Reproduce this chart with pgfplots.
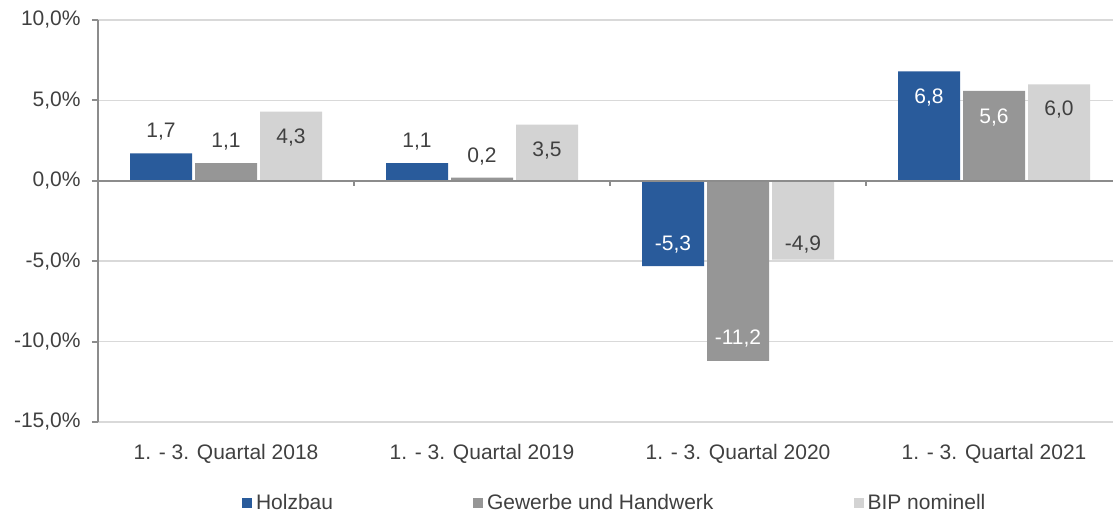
\documentclass[border=0pt]{standalone}
\usepackage{fontspec}
\setmainfont{Liberation Sans}
\usepackage{pgfplots}
\pgfplotsset{compat=1.18}
\definecolor{cblue}{HTML}{295B9B}
\definecolor{cgray}{HTML}{969696}
\definecolor{clight}{HTML}{D3D3D3}
\definecolor{axgray}{HTML}{8C8C8C}
\definecolor{grgray}{HTML}{D9D9D9}
\definecolor{txt}{HTML}{404040}
\newcommand{\fs}{\fontsize{10.5}{12.6}\selectfont}
\pgfplotsset{sqleg/.style={legend image code/.code={\fill[##1] (0pt,-2.5pt) rectangle (5pt,2.5pt);}}}
\tikzset{lbl/.style={font=\fs, text=txt, inner sep=0pt, text depth=0pt, anchor=center},
         wlbl/.style={lbl, text=white}}
\begin{document}
\begin{tikzpicture}[font=\fs]
\begin{axis}[
  width=507.5pt, height=201pt, scale only axis,
  ybar=1.5pt, bar width=31pt,
  xmin=-0.5, xmax=3.4648, ymin=-15, ymax=10,
  axis y line*=left, axis x line*=bottom,
  x axis line style={draw=none},
  y axis line style={draw=axgray, line width=1pt},
  xtick={0,1,2,3},
  xticklabels={1. - 3. Quartal 2018, 1. - 3. Quartal 2019, 1. - 3. Quartal 2020, 1. - 3. Quartal 2021},
  x tick style={draw=none},
  ytick={-15,-10,-5,0,5,10},
  yticklabels={{-15,0\%},{-10,0\%},{-5,0\%},{0,0\%},{5,0\%},{10,0\%}},
  y tick style={draw=axgray, line width=1pt},
  tick align=outside, major tick length=3pt,
  ymajorgrids, grid style={grgray, line width=0.8pt},
  tick label style={font=\fs, text=txt},
  yticklabel style={anchor=east, inner sep=0pt, xshift=-5.5pt},
  xticklabel style={anchor=center, inner sep=0pt, yshift=-13pt},
  legend columns=3,
  legend style={at={(0,0)}, anchor=west, xshift=72pt, yshift=-40.5pt,
    draw=none, inner sep=0pt, outer sep=0pt, font=\fs, text=txt,
    nodes={inner sep=0pt},
    /tikz/every even column/.append style={column sep=70pt},
    /tikz/every odd column/.append style={column sep=2pt}},
  clip=false,
]
\addplot[fill=cblue, draw=none, sqleg] coordinates {(0,1.7) (1,1.1) (2,-5.3) (3,6.8)};
\addplot[fill=cgray, draw=none, sqleg] coordinates {(0,1.1) (1,0.2) (2,-11.2) (3,5.6)};
\addplot[fill=clight, draw=none, sqleg] coordinates {(0,4.3) (1,3.5) (2,-4.9) (3,6.0)};
\legend{Holzbau, Gewerbe und Handwerk, BIP nominell}

\draw[axgray, line width=1pt] (axis cs:-0.5,0) -- (axis cs:3.4648,0);
\draw[axgray, line width=1pt] (axis cs:0.5,0) -- ++(0pt,-2.5pt);
\draw[axgray, line width=1pt] (axis cs:1.5,0) -- ++(0pt,-2.5pt);
\draw[axgray, line width=1pt] (axis cs:2.5,0) -- ++(0pt,-2.5pt);

% 2018
\node[lbl, xshift=-32.5pt, yshift=11.5pt] at (axis cs:0,1.7) {1,7};
\node[lbl, yshift=11.5pt] at (axis cs:0,1.1) {1,1};
\node[lbl, xshift=32.5pt, yshift=-12.5pt] at (axis cs:0,4.3) {4,3};
% 2019
\node[lbl, xshift=-32.5pt, yshift=11.5pt] at (axis cs:1,1.1) {1,1};
\node[lbl, yshift=11pt] at (axis cs:1,0.2) {0,2};
\node[lbl, xshift=32.5pt, yshift=-12.5pt] at (axis cs:1,3.5) {3,5};
% 2020
\node[wlbl, xshift=-32.5pt, yshift=11.5pt] at (axis cs:2,-5.3) {-5,3};
\node[wlbl, yshift=12pt] at (axis cs:2,-11.2) {-11,2};
\node[lbl, xshift=32.5pt, yshift=8pt] at (axis cs:2,-4.9) {-4,9};
% 2021
\node[wlbl, xshift=-32.5pt, yshift=-12.5pt] at (axis cs:3,6.8) {6,8};
\node[wlbl, yshift=-12.5pt] at (axis cs:3,5.6) {5,6};
\node[lbl, xshift=32.5pt, yshift=-12pt] at (axis cs:3,6.0) {6,0};

\coordinate (BL) at (rel axis cs:0,0);
\end{axis}
\pgfresetboundingbox
\path[use as bounding box] ([shift={(-49pt,-45.5pt)}]BL) rectangle ([shift={(507.5pt,211pt)}]BL);
\end{tikzpicture}
\end{document}
